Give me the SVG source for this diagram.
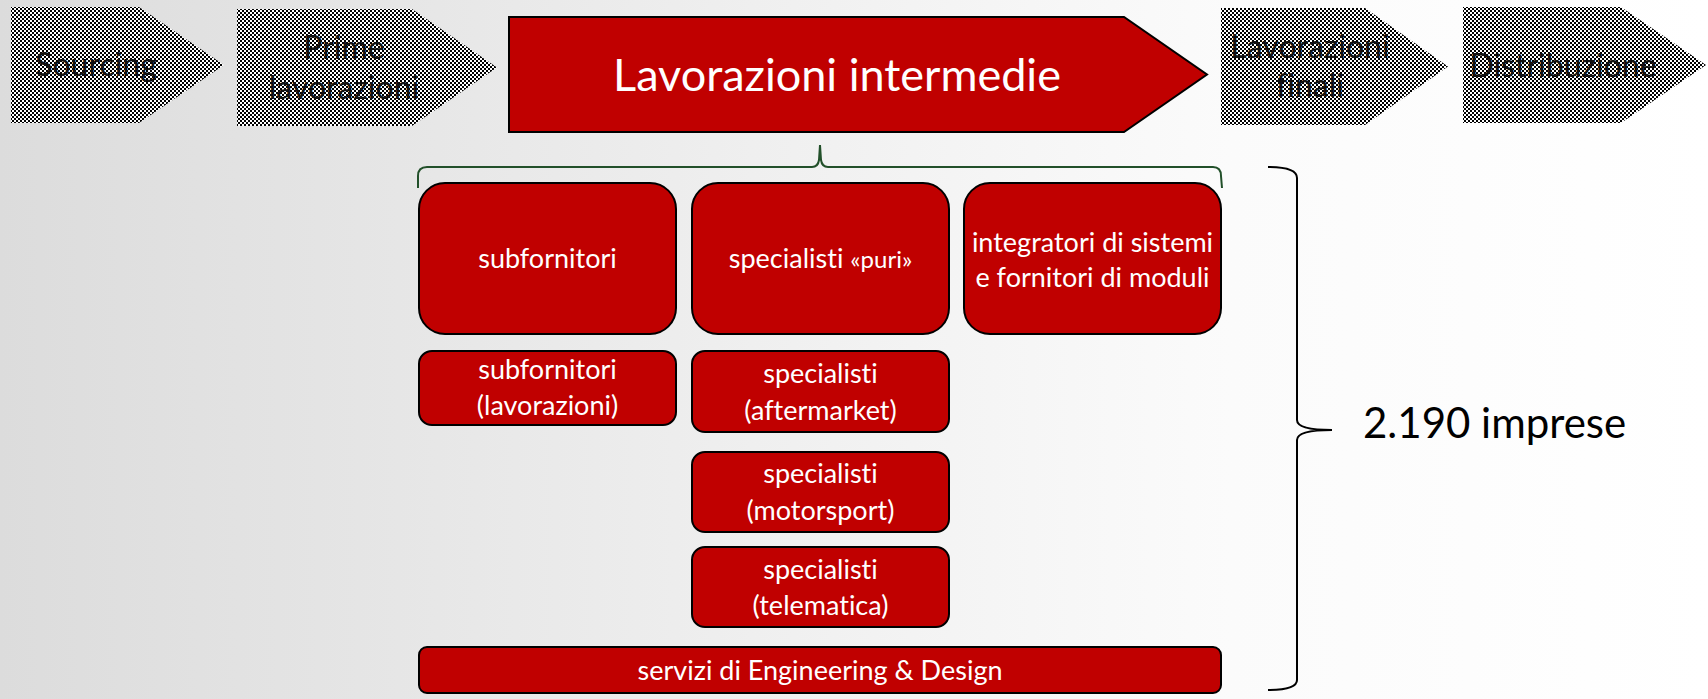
<svg xmlns="http://www.w3.org/2000/svg" width="1708" height="699" viewBox="0 0 1708 699">
  <defs>
    <linearGradient id="bg" x1="0" y1="0" x2="1" y2="0">
      <stop offset="0" stop-color="#dcdcdc"/>
      <stop offset="0.72" stop-color="#fbfbfb"/>
      <stop offset="1" stop-color="#ffffff"/>
    </linearGradient>
    <pattern id="chk" width="4" height="4" patternUnits="userSpaceOnUse">
      <rect width="4" height="4" fill="#ffffff"/>
      <rect width="2" height="2" fill="#000000"/>
      <rect x="2" y="2" width="2" height="2" fill="#000000"/>
    </pattern>
  </defs>
  <style>
    text { font-variant-ligatures: none; font-feature-settings: "liga" 0, "clig" 0; }
    .gray { fill: url(#chk); }
    .red { fill: #c00000; stroke: #000; stroke-width: 2; }
    .gt { font-family: Lato, "Liberation Sans", sans-serif; font-size: 32px; fill: #111; text-anchor: middle; }
    .wt { font-family: Lato, "Liberation Sans", sans-serif; font-size: 27px; fill: #fff; text-anchor: middle; }
    .big { font-family: Lato, "Liberation Sans", sans-serif; font-size: 45px; fill: #fff; text-anchor: middle; }
    .note { font-family: Lato, "Liberation Sans", sans-serif; font-size: 42px; fill: #000; }
    .brace-g { fill: none; stroke: #22502a; stroke-width: 2; }
    .brace-k { fill: none; stroke: #000; stroke-width: 2; }
  </style>
  <rect width="1708" height="699" fill="url(#bg)"/>

  <g id="sourcing">
    <polygon class="gray" points="11,7 139,7 224,65 139,123 11,123"/>
    <text class="gt" x="96" y="76">Sourcing</text>
  </g>
  <g id="prime-lavorazioni">
    <polygon class="gray" points="237,9 412,9 497,67.5 412,126 237,126"/>
    <text class="gt" x="344" y="59">Prime</text>
    <text class="gt" x="344" y="99">lavorazioni</text>
  </g>
  <g id="lavorazioni-intermedie">
    <polygon class="red" points="509,17 1124,17 1207,74.5 1124,132 509,132"/>
    <text class="big" x="837" y="91">Lavorazioni intermedie</text>
  </g>
  <g id="lavorazioni-finali">
    <polygon class="gray" points="1221,8 1365,8 1448,66.5 1365,125 1221,125"/>
    <text class="gt" x="1310" y="58">Lavorazioni</text>
    <text class="gt" x="1310" y="97">finali</text>
  </g>
  <g id="distribuzione">
    <polygon class="gray" points="1463,7 1621,7 1706,65 1621,123 1463,123"/>
    <text class="gt" x="1563" y="77">Distribuzione</text>
  </g>

  <g id="connectors">
    <path class="brace-g" d="M418,188 L418,176 Q418,167 427,167 L812,167 Q818,167 819,160 L820,145 L821,160 Q822,167 828,167 L1213,167 Q1221,167 1221,176 L1222,188"/>
    <path class="brace-k" d="M1268,167 Q1297,167 1297,178 L1297,420 Q1297,430 1332,430 Q1297,430 1297,440 L1297,680 Q1297,690 1268,690"/>
  </g>

  <g id="subfornitori">
    <rect class="red" x="419" y="183" width="257" height="151" rx="26"/>
    <text class="wt" x="547.5" y="268">subfornitori</text>
  </g>
  <g id="specialisti-puri">
    <rect class="red" x="692" y="183" width="257" height="151" rx="26"/>
    <text class="wt" x="820.5" y="268">specialisti <tspan font-size="24px">«puri»</tspan></text>
  </g>
  <g id="integratori">
    <rect class="red" x="964" y="183" width="257" height="151" rx="26"/>
    <text class="wt" x="1092.5" y="252">integratori di sistemi</text>
    <text class="wt" x="1092.5" y="287">e fornitori di moduli</text>
  </g>
  <g id="subfornitori-lavorazioni">
    <rect class="red" x="419" y="351" width="257" height="74" rx="13"/>
    <text class="wt" x="547.5" y="379">subfornitori</text>
    <text class="wt" x="547.5" y="415">(lavorazioni)</text>
  </g>
  <g id="specialisti-aftermarket">
    <rect class="red" x="692" y="351" width="257" height="81" rx="13"/>
    <text class="wt" x="820.5" y="383">specialisti</text>
    <text class="wt" x="820.5" y="420">(aftermarket)</text>
  </g>
  <g id="specialisti-motorsport">
    <rect class="red" x="692" y="452" width="257" height="80" rx="13"/>
    <text class="wt" x="820.5" y="483">specialisti</text>
    <text class="wt" x="820.5" y="520">(motorsport)</text>
  </g>
  <g id="specialisti-telematica">
    <rect class="red" x="692" y="547" width="257" height="80" rx="13"/>
    <text class="wt" x="820.5" y="579">specialisti</text>
    <text class="wt" x="820.5" y="615">(telematica)</text>
  </g>
  <g id="servizi">
    <rect class="red" x="419" y="647" width="802" height="46" rx="8"/>
    <text class="wt" x="820" y="680">servizi di Engineering &amp; Design</text>
  </g>
  <g id="imprese">
    <text class="note" x="1363" y="438">2.190 imprese</text>
  </g>
</svg>
